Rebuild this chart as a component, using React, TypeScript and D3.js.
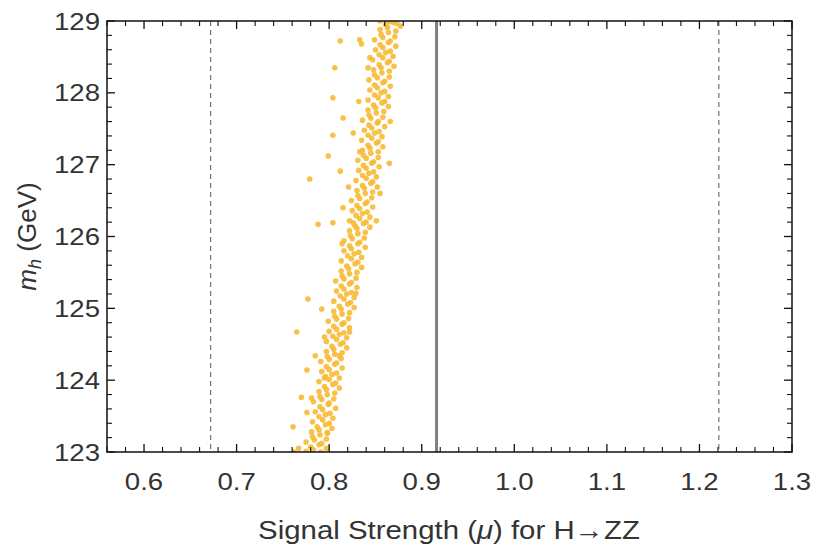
import React from "react";
import * as d3 from "d3";

// ---- data ----
const xDomain = [0.56, 1.3];
const yDomain = [123, 129];
const xMajorTicks = [0.6, 0.7, 0.8, 0.9, 1.0, 1.1, 1.2, 1.3];
const xTickLabels = ["0.6", "0.7", "0.8", "0.9", "1.0", "1.1", "1.2", "1.3"];
const yMajorTicks = [123, 124, 125, 126, 127, 128, 129];
const yTickLabels = ["123", "124", "125", "126", "127", "128", "129"];
const muCentral = 0.916;
const muBand = [0.672, 1.221];

// scan points: [signal strength mu, m_h in GeV]
const bandPoints: [number, number][] = [
  [0.775, 123.01], [0.783, 123.03], [0.791, 123.0],
  [0.780, 123.07], [0.789, 123.1], [0.797, 123.05],
  [0.775, 123.14], [0.784, 123.17], [0.792, 123.12], [0.797, 123.18],
  [0.782, 123.21], [0.790, 123.24],
  [0.781, 123.28], [0.789, 123.31], [0.798, 123.26],
  [0.787, 123.35], [0.796, 123.38], [0.803, 123.33],
  [0.782, 123.42], [0.793, 123.45], [0.800, 123.4],
  [0.789, 123.49], [0.796, 123.52], [0.804, 123.47],
  [0.785, 123.56], [0.793, 123.59], [0.801, 123.54],
  [0.790, 123.63], [0.799, 123.66], [0.807, 123.61],
  [0.783, 123.7], [0.792, 123.73], [0.800, 123.68], [0.805, 123.74],
  [0.790, 123.77], [0.798, 123.8],
  [0.789, 123.84], [0.797, 123.87], [0.806, 123.82],
  [0.795, 123.91], [0.804, 123.94], [0.811, 123.89],
  [0.789, 123.98], [0.800, 124.01], [0.807, 123.96],
  [0.796, 124.05], [0.803, 124.08], [0.811, 124.03],
  [0.792, 124.12], [0.800, 124.15], [0.808, 124.1],
  [0.797, 124.19], [0.806, 124.22], [0.814, 124.17],
  [0.791, 124.26], [0.800, 124.29], [0.808, 124.24], [0.813, 124.3],
  [0.798, 124.33], [0.806, 124.36],
  [0.797, 124.4], [0.805, 124.43], [0.814, 124.38],
  [0.803, 124.47], [0.812, 124.5], [0.819, 124.45],
  [0.797, 124.54], [0.808, 124.57], [0.815, 124.52],
  [0.804, 124.61], [0.811, 124.64], [0.819, 124.59],
  [0.800, 124.68], [0.808, 124.71], [0.816, 124.66],
  [0.805, 124.75], [0.814, 124.78], [0.822, 124.73],
  [0.799, 124.82], [0.808, 124.85], [0.816, 124.8], [0.821, 124.86],
  [0.806, 124.89], [0.814, 124.92],
  [0.805, 124.96], [0.813, 124.99], [0.822, 124.94],
  [0.811, 125.03], [0.820, 125.06], [0.827, 125.01],
  [0.805, 125.1], [0.816, 125.13], [0.823, 125.08],
  [0.812, 125.17], [0.819, 125.2], [0.827, 125.15],
  [0.808, 125.24], [0.816, 125.27], [0.824, 125.22],
  [0.813, 125.31], [0.822, 125.34], [0.830, 125.29],
  [0.807, 125.38], [0.816, 125.41], [0.824, 125.36], [0.829, 125.42],
  [0.814, 125.45], [0.822, 125.48],
  [0.813, 125.52], [0.821, 125.55], [0.830, 125.5],
  [0.819, 125.59], [0.828, 125.62], [0.835, 125.57],
  [0.813, 125.66], [0.824, 125.69], [0.831, 125.64],
  [0.820, 125.73], [0.827, 125.76], [0.835, 125.71],
  [0.816, 125.8], [0.824, 125.83], [0.832, 125.78],
  [0.822, 125.87], [0.831, 125.9], [0.839, 125.85],
  [0.816, 125.94], [0.825, 125.97], [0.833, 125.92], [0.838, 125.98],
  [0.823, 126.01], [0.831, 126.04],
  [0.822, 126.08], [0.830, 126.11], [0.839, 126.06],
  [0.828, 126.15], [0.837, 126.18], [0.844, 126.13],
  [0.822, 126.22], [0.833, 126.25], [0.840, 126.2],
  [0.829, 126.29], [0.836, 126.32], [0.844, 126.27],
  [0.825, 126.36], [0.833, 126.39], [0.841, 126.34],
  [0.830, 126.43], [0.839, 126.46], [0.847, 126.41],
  [0.824, 126.5], [0.833, 126.53], [0.841, 126.48], [0.846, 126.54],
  [0.831, 126.57], [0.839, 126.6],
  [0.830, 126.64], [0.838, 126.67], [0.847, 126.62],
  [0.836, 126.71], [0.845, 126.74], [0.852, 126.69],
  [0.829, 126.78], [0.840, 126.81], [0.847, 126.76],
  [0.836, 126.85], [0.843, 126.88], [0.851, 126.83],
  [0.832, 126.92], [0.840, 126.95], [0.848, 126.9],
  [0.837, 126.99], [0.846, 127.02], [0.854, 126.97],
  [0.831, 127.06], [0.840, 127.09], [0.848, 127.04], [0.853, 127.1],
  [0.837, 127.13], [0.845, 127.16],
  [0.836, 127.2], [0.844, 127.23], [0.853, 127.18],
  [0.842, 127.27], [0.851, 127.3], [0.858, 127.25],
  [0.835, 127.34], [0.846, 127.37], [0.853, 127.32],
  [0.842, 127.41], [0.849, 127.44], [0.857, 127.39],
  [0.838, 127.48], [0.846, 127.51], [0.854, 127.46],
  [0.843, 127.55], [0.852, 127.58], [0.860, 127.53],
  [0.836, 127.62], [0.845, 127.65], [0.853, 127.6], [0.858, 127.66],
  [0.843, 127.69], [0.851, 127.72],
  [0.842, 127.76], [0.850, 127.79], [0.859, 127.74],
  [0.848, 127.83], [0.857, 127.86], [0.864, 127.81],
  [0.842, 127.9], [0.853, 127.93], [0.860, 127.88],
  [0.849, 127.97], [0.856, 128.0], [0.864, 127.95],
  [0.844, 128.04], [0.852, 128.07], [0.860, 128.02],
  [0.849, 128.11], [0.858, 128.14], [0.866, 128.09],
  [0.843, 128.18], [0.852, 128.21], [0.860, 128.16], [0.865, 128.22],
  [0.849, 128.25], [0.857, 128.28],
  [0.848, 128.32], [0.856, 128.35], [0.865, 128.3],
  [0.854, 128.39], [0.863, 128.42], [0.870, 128.37],
  [0.847, 128.46], [0.858, 128.49], [0.865, 128.44],
  [0.854, 128.53], [0.861, 128.56], [0.869, 128.51],
  [0.850, 128.6], [0.858, 128.63], [0.866, 128.58],
  [0.855, 128.67], [0.864, 128.7], [0.872, 128.65],
  [0.849, 128.74], [0.858, 128.77], [0.866, 128.72], [0.871, 128.78],
  [0.856, 128.81], [0.864, 128.84],
  [0.855, 128.88], [0.863, 128.91], [0.872, 128.86],
  [0.861, 128.95], [0.870, 128.98], [0.877, 128.93],
  [0.855, 129.0], [0.866, 128.99], [0.873, 128.97],
];
const outlierPoints: [number, number][] = [
  [0.812, 128.72], [0.833, 128.74], [0.835, 128.68], [0.806, 128.35], [0.804, 127.93],
  [0.844, 128.49], [0.842, 128.35], [0.832, 127.88], [0.815, 127.65], [0.804, 127.41],
  [0.826, 127.44], [0.799, 127.12], [0.812, 126.91], [0.779, 126.8], [0.866, 127.6],
  [0.865, 127.02], [0.833, 127.18], [0.821, 126.69], [0.788, 126.17], [0.804, 126.19],
  [0.815, 126.4], [0.826, 126.19], [0.855, 126.6], [0.851, 126.22], [0.814, 125.9],
  [0.777, 125.13], [0.765, 124.67], [0.792, 124.99], [0.795, 124.6], [0.822, 124.67],
  [0.785, 124.34], [0.811, 124.34], [0.829, 125.21], [0.776, 124.14], [0.770, 123.76],
  [0.781, 123.75], [0.795, 124.03], [0.776, 123.55], [0.761, 123.35], [0.798, 123.27],
  [0.767, 123.05], [0.762, 123.0],
];

const W = 816;
const H = 546;
const plot = { left: 107, right: 792, top: 21, bottom: 452 };

export default function App() {
  const x = d3.scaleLinear().domain(xDomain).range([plot.left, plot.right]);
  const y = d3.scaleLinear().domain(yDomain).range([plot.bottom, plot.top]);

  const xMinor = d3.range(0.56, 1.3001, 0.02).filter((v) => !xMajorTicks.some((m) => Math.abs(m - v) < 1e-6));
  const yMinor = d3.range(123, 129.001, 0.2).filter((v) => !yMajorTicks.some((m) => Math.abs(m - v) < 1e-6));
  const majLen = 8;
  const minLen = 5;
  const font = "'Liberation Sans', Arial, Helvetica, sans-serif";
  const pts = [...outlierPoints, ...bandPoints];
  const sx = 1.15;

  return (
    <svg width={W} height={H} style={{ position: "absolute", left: 0, top: 0, background: "#fff" }}>
      <defs>
        <clipPath id="clip">
          <rect x={plot.left} y={plot.top} width={plot.right - plot.left} height={plot.bottom - plot.top} />
        </clipPath>
      </defs>
      <rect x={0} y={0} width={W} height={H} fill="#fff" />
      {/* reference lines */}
      {muBand.map((v, i) => (
        <line key={"d" + i} x1={x(v)} x2={x(v)} y1={plot.top} y2={plot.bottom} stroke="#555" strokeWidth={1} strokeDasharray="5,4" />
      ))}
      <line x1={x(muCentral)} x2={x(muCentral)} y1={plot.top} y2={plot.bottom} stroke="#808080" strokeWidth={3} />
      {/* points */}
      <g clipPath="url(#clip)">
        {pts.map((p, i) => (
          <circle key={i} cx={x(p[0])} cy={y(p[1])} r={2.8} fill="#F7BA36" fillOpacity={0.9} />
        ))}
      </g>
      {/* frame */}
      <rect x={plot.left} y={plot.top} width={plot.right - plot.left} height={plot.bottom - plot.top} fill="none" stroke="#111" strokeWidth={1.5} />
      {/* x ticks bottom & top */}
      {xMajorTicks.map((v, i) => (
        <g key={"xm" + i}>
          <line x1={x(v)} x2={x(v)} y1={plot.bottom} y2={plot.bottom - majLen} stroke="#111" strokeWidth={1.3} />
          <line x1={x(v)} x2={x(v)} y1={plot.top} y2={plot.top + majLen} stroke="#111" strokeWidth={1.3} />
          <text transform={`translate(${x(v)},490) scale(${sx},1)`} textAnchor="middle" fontFamily={font} fontSize={24} fill="#333">{xTickLabels[i]}</text>
        </g>
      ))}
      {xMinor.map((v, i) => (
        <g key={"xn" + i}>
          <line x1={x(v)} x2={x(v)} y1={plot.bottom} y2={plot.bottom - minLen} stroke="#111" strokeWidth={1.1} />
          <line x1={x(v)} x2={x(v)} y1={plot.top} y2={plot.top + minLen} stroke="#111" strokeWidth={1.1} />
        </g>
      ))}
      {/* y ticks left & right */}
      {yMajorTicks.map((v, i) => (
        <g key={"ym" + i}>
          <line x1={plot.left} x2={plot.left + majLen} y1={y(v)} y2={y(v)} stroke="#111" strokeWidth={1.3} />
          <line x1={plot.right} x2={plot.right - majLen} y1={y(v)} y2={y(v)} stroke="#111" strokeWidth={1.3} />
          <text transform={`translate(100,${y(v) + 8.5}) scale(${sx},1)`} textAnchor="end" fontFamily={font} fontSize={24} fill="#333">{yTickLabels[i]}</text>
        </g>
      ))}
      {yMinor.map((v, i) => (
        <g key={"yn" + i}>
          <line x1={plot.left} x2={plot.left + minLen} y1={y(v)} y2={y(v)} stroke="#111" strokeWidth={1.1} />
          <line x1={plot.right} x2={plot.right - minLen} y1={y(v)} y2={y(v)} stroke="#111" strokeWidth={1.1} />
        </g>
      ))}
      {/* axis titles */}
      <text transform={`translate(449,539) scale(1.13,1)`} textAnchor="middle" fontFamily={font} fontSize={26} fill="#333">
        Signal Strength (<tspan fontStyle="italic">μ</tspan>) for H→ZZ
      </text>
      <text transform={`translate(36,${(plot.top + plot.bottom) / 2}) rotate(-90)`} textAnchor="middle" fontFamily={font} fontSize={26} fill="#333">
        <tspan fontStyle="italic">m</tspan>
        <tspan fontStyle="italic" fontSize={18} dy={5}>h</tspan>
        <tspan dy={-5}> (GeV)</tspan>
      </text>
    </svg>
  );
}
